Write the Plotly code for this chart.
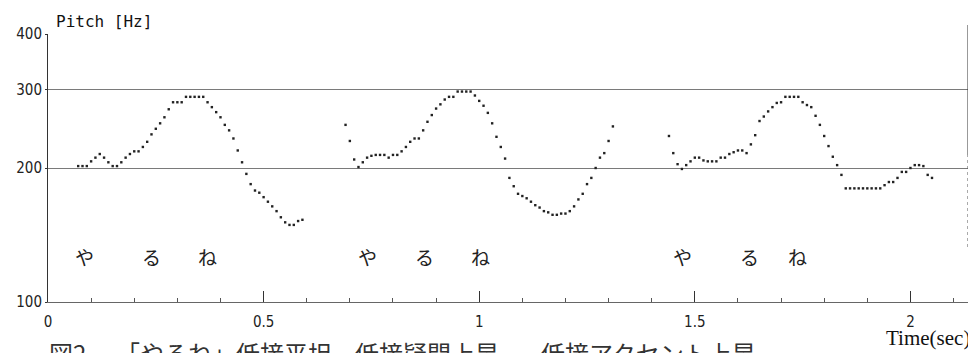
import math
import plotly.graph_objects as go

# ---- data ----
t1 = [0.07, 0.08, 0.09, 0.10, 0.11, 0.12, 0.13, 0.14, 0.15, 0.16, 0.17, 0.18, 0.19, 0.20,
      0.21, 0.22, 0.23, 0.24, 0.25, 0.26, 0.27, 0.28, 0.29, 0.30, 0.31, 0.32, 0.33, 0.34,
      0.35, 0.36, 0.37, 0.38, 0.39, 0.40, 0.41, 0.42, 0.43, 0.44, 0.45, 0.46, 0.47, 0.48,
      0.49, 0.50, 0.51, 0.52, 0.53, 0.54, 0.55, 0.56, 0.57, 0.58, 0.59]
f1 = [202, 202, 202, 207, 211, 215, 211, 206, 202, 202, 206, 211, 215, 218,
      218, 223, 229, 238, 245, 252, 260, 271, 281, 281, 281, 289, 289, 289,
      289, 289, 281, 274, 267, 260, 250, 243, 233, 219, 206, 194, 184, 178,
      176, 172, 168, 164, 160, 155, 151, 149, 149, 152, 153]

t2 = [0.69, 0.70, 0.71, 0.72, 0.73, 0.74, 0.75, 0.76, 0.77, 0.78, 0.79, 0.80, 0.81, 0.82,
      0.83, 0.84, 0.85, 0.86, 0.87, 0.88, 0.89, 0.90, 0.91, 0.92, 0.93, 0.94, 0.95, 0.96,
      0.97, 0.98, 0.99, 1.00, 1.01, 1.02, 1.03, 1.04, 1.05, 1.06, 1.07, 1.08, 1.09, 1.10,
      1.11, 1.12, 1.13, 1.14, 1.15, 1.16, 1.17, 1.18, 1.19, 1.20, 1.21, 1.22, 1.23, 1.24,
      1.25, 1.26, 1.27, 1.28, 1.29, 1.30, 1.31]
f2 = [250, 230, 209, 201, 206, 211, 213, 214, 214, 214, 211, 214, 214, 218,
      223, 229, 233, 233, 243, 254, 263, 272, 278, 285, 289, 289, 297, 297,
      297, 297, 291, 283, 276, 266, 252, 235, 223, 210, 190, 182, 175, 173,
      171, 168, 165, 163, 160, 159, 157, 157, 158, 158, 160, 164, 170, 175,
      184, 190, 200, 211, 216, 230, 248]

t3 = [1.44, 1.45, 1.46, 1.47, 1.48, 1.49, 1.50, 1.51, 1.52, 1.53, 1.54, 1.55, 1.56, 1.57,
      1.58, 1.59, 1.60, 1.61, 1.62, 1.63, 1.64, 1.65, 1.66, 1.67, 1.68, 1.69, 1.70, 1.71,
      1.72, 1.73, 1.74, 1.75, 1.76, 1.77, 1.78, 1.79, 1.80, 1.81, 1.82, 1.83, 1.84, 1.85,
      1.86, 1.87, 1.88, 1.89, 1.90, 1.91, 1.92, 1.93, 1.94, 1.95, 1.96, 1.97, 1.98, 1.99,
      2.00, 2.01, 2.02, 2.03, 2.04, 2.05]
f3 = [236, 216, 204, 199, 203, 207, 211, 211, 208, 207, 207, 207, 211, 211,
      215, 217, 219, 219, 216, 226, 237, 255, 261, 268, 274, 280, 281, 289,
      289, 289, 289, 281, 277, 274, 262, 250, 236, 224, 212, 203, 193, 180,
      180, 180, 180, 180, 180, 180, 180, 180, 183, 186, 186, 190, 196, 196,
      200, 203, 203, 202, 193, 190]

kana_labels = ["や", "る", "ね", "や", "る", "ね", "や", "る", "ね"]
kana_times = [0.0835, 0.241, 0.370, 0.742, 0.872, 1.003, 1.471, 1.627, 1.739]

y_ticks = [100, 200, 300, 400]
caption_parts = ["図2", "「やるね」", "低接平坦", "低接疑問上昇", "低接アクセント上昇"]
caption_px = [40, 107, 228, 348, 536]

# ---- figure ----
# the page body has an 8px margin, so the figure is offset by 8px in the window
OFF = 8
WIN_W, WIN_H = 976, 353
W, H = WIN_W - OFF, WIN_H - OFF
PL, PR, PT, PB = 41, 968, 34, 302  # plot area in window pixels
TICK_FONT = "Liberation Sans Narrow, DejaVu Sans Condensed, sans-serif"


def px_to_paper_x(px):
    return (px - PL) / (PR - PL)


def px_to_paper_y(py):
    return (PB - py) / (PB - PT)


fig = go.Figure()
for t, f in [(t1, f1), (t2, f2), (t3, f3)]:
    fig.add_trace(go.Scatter(
        x=t, y=f, mode="markers",
        marker=dict(symbol="square", size=2.4, color="#222", line=dict(width=0)),
        showlegend=False, hoverinfo="x+y"))

annotations = []
for lab, tx in zip(kana_labels, kana_times):
    annotations.append(dict(x=tx, y=px_to_paper_y(256), xref="x", yref="paper",
                            text=lab, showarrow=False, xanchor="center", yanchor="middle",
                            font=dict(family="Noto Sans CJK JP", size=19, color="#222")))

annotations.append(dict(x=px_to_paper_x(47), y=px_to_paper_y(21), xref="paper", yref="paper",
                        text="Pitch [Hz]", showarrow=False, xanchor="left", yanchor="middle",
                        font=dict(family="DejaVu Sans Mono", size=16, color="#111")))
annotations.append(dict(x=px_to_paper_x(972), y=px_to_paper_y(338), xref="paper", yref="paper",
                        text="Time(sec)", showarrow=False, xanchor="right", yanchor="middle",
                        font=dict(family="Liberation Serif", size=21, color="#111")))
for part, px in zip(caption_parts, caption_px):
    annotations.append(dict(x=px_to_paper_x(px), y=px_to_paper_y(352), xref="paper", yref="paper",
                            text=part, showarrow=False, xanchor="left", yanchor="middle",
                            font=dict(family="Noto Sans CJK JP", size=24, color="#333")))

shapes = [
    dict(type="line", xref="paper", yref="paper", x0=1, x1=1,
         y0=px_to_paper_y(155), y1=px_to_paper_y(25), line=dict(color="#333", width=1)),
    dict(type="line", xref="paper", yref="paper", x0=1, x1=1,
         y0=px_to_paper_y(247), y1=px_to_paper_y(155), line=dict(color="#555", width=1, dash="dot")),
]

fig.update_layout(
    width=W, height=H,
    margin=dict(l=PL - OFF, r=WIN_W - PR, t=PT - OFF, b=WIN_H - PB, pad=0),
    paper_bgcolor="white", plot_bgcolor="white",
    annotations=annotations, shapes=shapes,
    xaxis=dict(range=[0, (PR - PL) / 434.5], showgrid=False, zeroline=False,
               showline=True, linecolor="#666", linewidth=1,
               ticks="inside", ticklen=11, tickcolor="#333", tickwidth=1,
               tick0=0, dtick=0.5, ticklabelstandoff=6,
               tickfont=dict(family=TICK_FONT, size=15, color="#222"),
               minor=dict(ticks="inside", ticklen=4, dtick=0.1, tick0=0,
                          tickcolor="#555", showgrid=False)),
    yaxis=dict(type="log", range=[2, math.log10(400)],
               tickmode="array", tickvals=y_ticks, ticktext=[str(v) for v in y_ticks],
               showgrid=True, gridcolor="#7a7a7a", gridwidth=1,
               showline=True, linecolor="#333", linewidth=1, zeroline=False,
               ticks="outside", ticklen=2, tickcolor="#333",
               tickfont=dict(family=TICK_FONT, size=15, color="#222")),
)

fig.write_html("out.html")
